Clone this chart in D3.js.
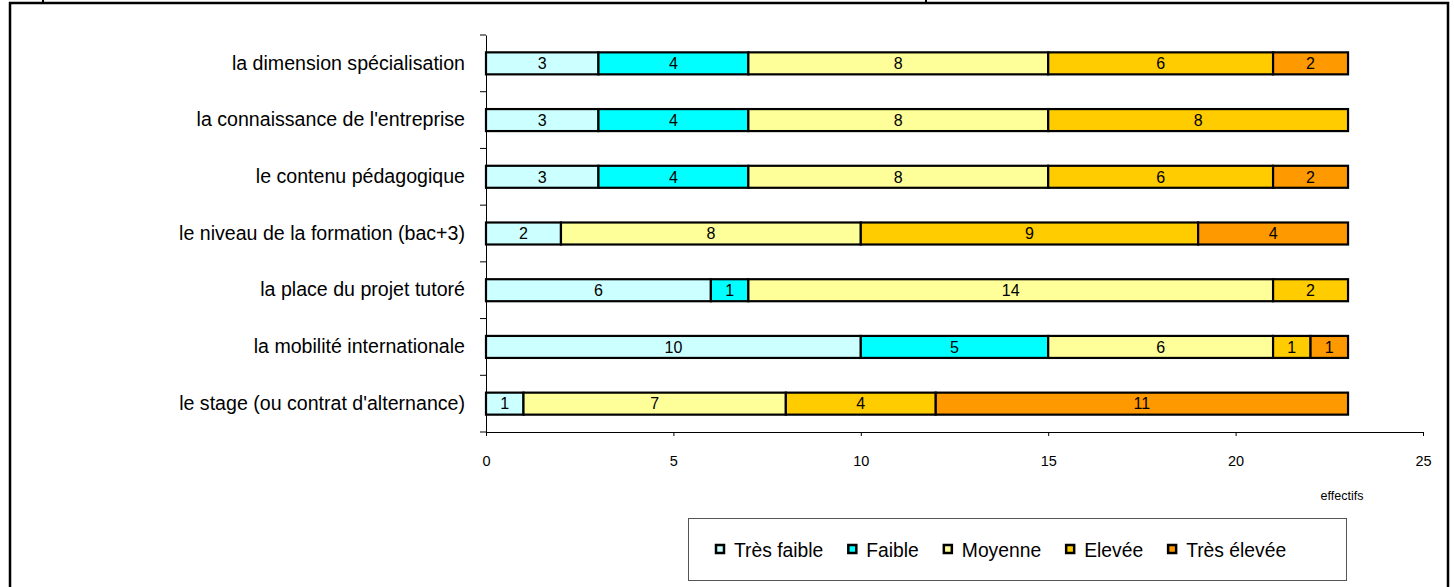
<!DOCTYPE html>
<html><head><meta charset="utf-8">
<script src="https://cdn.jsdelivr.net/npm/d3@7"></script>
<style>html,body{margin:0;padding:0;background:#fff;}svg{display:block;font-family:"Liberation Sans",Arial,sans-serif;}</style>
</head><body>
<svg id="c" width="1454" height="587"></svg>
<script>
const categories = [
  "la dimension spécialisation",
  "la connaissance de l'entreprise",
  "le contenu pédagogique",
  "le niveau de la formation (bac+3)",
  "la place du projet tutoré",
  "la mobilité internationale",
  "le stage (ou contrat d'alternance)"
];
const seriesNames = ["Très faible", "Faible", "Moyenne", "Elevée", "Très élevée"];
const seriesColors = ["#CCFFFF", "#00FFFF", "#FFFF99", "#FFCC00", "#FF9900"];
const tresFaible = [3, 3, 3, 2, 6, 10, 1];
const faible     = [4, 4, 4, 0, 1, 5, 0];
const moyenne    = [8, 8, 8, 8, 14, 6, 7];
const elevee     = [6, 8, 6, 9, 2, 1, 4];
const tresElevee = [2, 0, 2, 4, 0, 1, 11];
const xTicks = [0, 5, 10, 15, 20, 25];
const xAxisTitle = "effectifs";

const svg = d3.select("#c");
// outer frame (open at bottom)
svg.append("path").attr("d","M10,587 L10,3 L1448,3 L1448,587").attr("fill","none").attr("stroke","#000").attr("stroke-width",2.5);
svg.append("rect").attr("x",42).attr("y",0).attr("width",2).attr("height",3).attr("fill","#000");
svg.append("rect").attr("x",925).attr("y",0).attr("width",2).attr("height",3).attr("fill","#000");

const x = d3.scaleLinear().domain([0, 25]).range([486, 1423]);
const y = d3.scaleBand().domain(categories).range([35, 432]);
const barH = 22;

const table = categories.map((c, i) => {
  const o = {cat: c};
  [tresFaible, faible, moyenne, elevee, tresElevee].forEach((arr, k) => o[seriesNames[k]] = arr[i]);
  return o;
});
const stack = d3.stack().keys(seriesNames)(table);

const g = svg.append("g");
stack.forEach((layer, k) => {
  layer.forEach(d => {
    const v = d[1] - d[0];
    if (v <= 0) return;
    const yc = y(d.data.cat) + y.bandwidth() / 2;
    g.append("rect")
      .attr("x", x(d[0])).attr("y", yc - barH / 2)
      .attr("width", x(d[1]) - x(d[0])).attr("height", barH)
      .attr("fill", seriesColors[k]).attr("stroke", "#000").attr("stroke-width", 2.2);
    g.append("text")
      .attr("x", (x(d[0]) + x(d[1])) / 2).attr("y", yc)
      .attr("dy", "0.36em").attr("text-anchor", "middle")
      .attr("font-size", 16).attr("fill", "#000").text(v);
  });
});

// y axis
const yAxis = d3.axisLeft(y).tickSize(0).tickPadding(21);
const ya = svg.append("g").attr("transform", "translate(486,0)").call(yAxis);
ya.select(".domain").attr("stroke", "#000");
ya.selectAll("text").attr("font-size", 19.6).attr("fill", "#000").attr("font-family", "Liberation Sans, Arial, sans-serif");
// y tick marks at band boundaries
const bounds = categories.map(c => y(c)).concat([y.range()[1]]);
svg.append("g").selectAll("line").data(bounds).join("line")
  .attr("x1", 480).attr("x2", 486).attr("y1", d => d).attr("y2", d => d)
  .attr("stroke", "#000");

// x axis
const xa = svg.append("g").attr("transform", "translate(0,432)")
  .call(d3.axisBottom(x).tickValues(xTicks).tickSize(4).tickPadding(20));
xa.select(".domain").attr("stroke", "#000");
xa.selectAll("line").attr("stroke", "#000");
xa.selectAll("text").attr("font-size", 14.5).attr("fill", "#000").attr("font-family", "Liberation Sans, Arial, sans-serif");

svg.append("text").attr("x", 1342).attr("y", 500).attr("text-anchor", "middle")
  .attr("font-size", 12.5).attr("fill", "#000").text(xAxisTitle);

// legend
svg.append("rect").attr("x", 688.5).attr("y", 518.5).attr("width", 658).attr("height", 62)
  .attr("fill", "#fff").attr("stroke", "#555").attr("stroke-width", 1);
let lx = 716;
seriesNames.forEach((n, k) => {
  svg.append("rect").attr("x", lx).attr("y", 545).attr("width", 8).attr("height", 8)
    .attr("fill", seriesColors[k]).attr("stroke", "#000").attr("stroke-width", 2.5);
  const t = svg.append("text").attr("x", lx + 18).attr("y", 557).attr("font-size", 19.3)
    .attr("fill", "#000").text(n);
  lx += 18 + t.node().getComputedTextLength() + 25;
});
</script>
</body></html>
